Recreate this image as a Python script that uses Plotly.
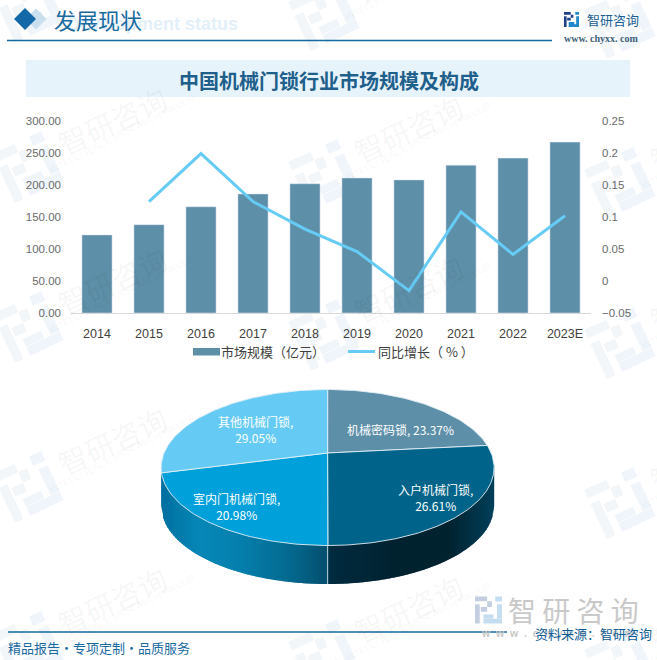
import math
import plotly.graph_objects as go

W, H = 657, 660
FONT = "Noto Sans CJK SC"
LATIN = "Liberation Sans"

years = ["2014", "2015", "2016", "2017", "2018", "2019", "2020", "2021", "2022", "2023E"]
market_size = [122, 138, 166, 186, 202, 211, 208, 231, 242, 267]
growth = [None, 0.124, 0.199, 0.124, 0.081, 0.046, -0.015, 0.108, 0.0415, 0.102]
series_names = ["市场规模\uff08亿元\uff09", "同比增长\uff08 % \uff09"]
pie_labels = ["机械密码锁", "入户机械门锁", "室内门机械门锁", "其他机械门锁"]
pie_shares = [23.37, 26.61, 20.98, 29.05]
pie_colors = ["#5D8FA8", "#006389", "#00A0DA", "#66CBF4"]
BAR_COLOR = "#5D8FA8"
LINE_COLOR = "#66CCF5"


def px(x):
    return x / W


def py(y):
    return 1 - y / H


# ---- pie geometry (perspective ellipse) ----
CX, EY, RX, RY = 327.6, 467.5, 166.5, 78
APEX = 0.186
DEPTH = 38.5


def project(theta):
    u, v = math.sin(theta), math.cos(theta)
    d = 1 + APEX * v
    yy = (v + APEX) / d
    xx = u * math.sqrt(1 - APEX ** 2) / d
    return CX + RX * xx, EY - RY * yy


def lerp_hex(stops, t):
    for (a, ca), (b, cb) in zip(stops, stops[1:]):
        if t <= b:
            f = (t - a) / (b - a)
            c = [int(ca[i:i + 2], 16) + f * (int(cb[i:i + 2], 16) - int(ca[i:i + 2], 16)) for i in (1, 3, 5)]
            return "rgb(%d,%d,%d)" % tuple(c)
    return stops[-1][1]


side_stops = [
    (161, "#0070A0"), (200, "#0788B8"), (240, "#0680AE"), (290, "#046A90"), (327.6, "#044F6E"),
    (328.5, "#012C40"), (400, "#01222F"), (450, "#012431"), (494.1, "#02405A"),
]

fig = go.Figure()

fig.add_trace(go.Bar(x=years, y=market_size, name=series_names[0], marker_color=BAR_COLOR,
                     xaxis="x", yaxis="y", showlegend=False))
fig.add_trace(go.Scatter(x=years, y=growth, name=series_names[1], mode="lines",
                         line=dict(color=LINE_COLOR, width=3), xaxis="x", yaxis="y2", showlegend=False))

# side wall: overlapping narrow bands, each covering the seam of the one before
step = 2.0
x0 = CX - RX
while x0 < CX + RX:
    x1 = min(x0 + step, CX + RX)
    x2 = min(x1 + 1.5, CX + RX)
    ya = EY + RY * math.sqrt(max(0, 1 - ((x0 - CX) / RX) ** 2))
    yb = EY + RY * math.sqrt(max(0, 1 - ((x2 - CX) / RX) ** 2))
    col = lerp_hex(side_stops, (x0 + x1) / 2)
    fig.add_trace(go.Scatter(x=[x0, x2, x2, x0], y=[ya - 3, yb - 3, yb + DEPTH, ya + DEPTH], mode="lines", fill="toself",
                             fillcolor=col, line=dict(width=0), xaxis="x3", yaxis="y3",
                             showlegend=False, hoverinfo="skip"))
    x0 = x1

# seam in the side wall at the 50% boundary
seam_x, seam_y = project(math.pi)
fig.add_trace(go.Scatter(x=[seam_x, seam_x], y=[seam_y, seam_y + DEPTH], mode="lines",
                         line=dict(color="#B9CFDA", width=1), xaxis="x3", yaxis="y3",
                         showlegend=False, hoverinfo="skip"))

# top slices
centre = (CX, EY - RY * APEX)
cum = 0.0
for name, share, colour in zip(pie_labels, pie_shares, pie_colors):
    t0 = cum / 100 * 2 * math.pi
    cum += share
    t1 = cum / 100 * 2 * math.pi
    n = max(8, int(share * 3))
    pts = [project(t0 + (t1 - t0) * i / n) for i in range(n + 1)]
    xs = [centre[0]] + [p[0] for p in pts] + [centre[0]]
    ys = [centre[1]] + [p[1] for p in pts] + [centre[1]]
    fig.add_trace(go.Scatter(x=xs, y=ys, mode="lines", fill="toself", fillcolor=colour,
                             line=dict(color="rgba(225,238,245,0.9)", width=1), xaxis="x3", yaxis="y3",
                             showlegend=False, name=name, hoverinfo="skip"))

shapes = []
annots = []


def text(x, y, s, size, color, font=FONT, anchor="center", angle=0, bold=False):
    annots.append(dict(x=px(x), y=py(y), xref="paper", yref="paper", text=("<b>%s</b>" % s) if bold else s,
                       showarrow=False, xanchor=anchor, yanchor="middle", textangle=angle,
                       font=dict(size=size, color=color, family=font)))


LOGO_NAVY = [(0, 0, 10, 2.8), (7.2, 0, 10, 9), (3.4, 6.2, 10, 9), (0, 4.6, 2.8, 16)]
LOGO_BLUE = [(12, 0, 16, 3), (13, 4.6, 16, 13), (5, 13.2, 16, 16), (5, 10.6, 11, 13)]


def logo_path(rects, cx, cy, size, angle):
    a = math.radians(angle)
    s = size / 16
    parts = []
    for (l, t, r, b) in rects:
        pts = []
        for (ux, uy) in [(l, t), (r, t), (r, b), (l, b)]:
            dx, dy = (ux - 8) * s, (uy - 8) * s
            pts.append((cx + dx * math.cos(a) - dy * math.sin(a), cy + dx * math.sin(a) + dy * math.cos(a)))
        parts.append("M" + " L".join("%.4f,%.4f" % (px(p[0]), py(p[1])) for p in pts) + " Z")
    return " ".join(parts)


def logo(cx, cy, size, angle, navy, blue):
    for rects, col in ((LOGO_NAVY, navy), (LOGO_BLUE, blue)):
        shapes.append(dict(type="path", xref="paper", yref="paper", layer="below", path=logo_path(rects, cx, cy, size, angle),
                           fillcolor=col, line=dict(width=0)))


# ---- tiled watermark ----
for col in range(3):
    for row in range(-1, 4):
        tx = 112 + 296 * col
        ty = 120 + 8 * col + 160 * row
        logo(tx - 84, ty + 47, 54, -25, "#F3F6F9", "#EFF5FA")
        over_pie = 190 < tx < 470 and 360 < ty < 560
        visible = ty > 0 or (col == 1)
        if not over_pie and visible:
            text(tx, ty, "智研咨询", 29, "rgba(0,0,0,0.055)", angle=-25)
            text(tx + 10, ty + 13, "INTELLIGENCE RESEARCH GROUP", 9.5, "rgba(0,0,0,0.05)", font=LATIN, angle=-27)

# ---- header ----
for cx, hw, col in ((36, 10.5, "#C9DFEE"), (25, 11, "#1369A8")):
    shapes.append(dict(type="path", xref="paper", yref="paper",
                       path="M%f,%f L%f,%f L%f,%f L%f,%f Z" % (px(cx - hw), py(19), px(cx), py(19 - hw), px(cx + hw), py(19), px(cx), py(19 + hw)),
                       fillcolor=col, line=dict(width=0)))
shapes.append(dict(type="line", xref="paper", yref="paper", x0=px(7), x1=px(552), y0=py(40.5), y1=py(40.5),
                   line=dict(color="#156A9E", width=1.5)))
shapes.append(dict(type="rect", xref="paper", yref="paper", layer="below", x0=px(26), x1=px(630), y0=py(60), y1=py(97),
                   fillcolor="#E6F3FB", line=dict(width=0)))
text(240, 24, "Development status", 18, "#E3F0FA", font=LATIN, anchor="right", bold=True)
text(52, 19, "发展现状", 22, "#1A6A9F", anchor="left")
text(329, 80, "中国机械门锁行业市场规模及构成", 20, "#1F5F8B", bold=True)

# top-right brand
logo(571.5, 19.5, 15, 0, "#1F3F88", "#1E88C8")
text(585, 19, "智研咨询", 13, "#1A5E94", anchor="left")
text(601, 39, "www. chyxx. com", 10, "#40607A", font="Liberation Serif", bold=True)

# footer
logo(488.5, 610, 27, 0, "#C3CFE0", "#C4DDF0")
text(573.5, 610, "智 研 咨 询", 28, "#C9C9C9")
text(557, 633, "\u00a0\u00a0".join("www.chyxx.com"), 10.5, "#C9C9C9", font=LATIN, bold=True)
shapes.append(dict(type="line", xref="paper", yref="paper", x0=px(8), x1=px(507), y0=py(632), y1=py(632),
                   line=dict(color="#156A9E", width=1.5)))
text(6, 647, "精品报告·专项定制·品质服务", 13, "#1A6A9F", anchor="left")
text(654, 633, "资料来源\uff1a智研咨询", 13, "#0F5C94", anchor="right")

# legend
shapes.append(dict(type="rect", xref="paper", yref="paper", x0=px(193), x1=px(220), y0=py(348), y1=py(355.5),
                   fillcolor=BAR_COLOR, line=dict(width=0)))
shapes.append(dict(type="line", xref="paper", yref="paper", x0=px(348), x1=px(375), y0=py(351.5), y1=py(351.5),
                   line=dict(color=LINE_COLOR, width=3)))
text(219, 351, series_names[0], 13, "#404040", anchor="left")
text(376, 351, series_names[1], 13, "#404040", anchor="left")

# pie labels
label_pos = [(400, 429, False), (435, 497.5, True), (236.7, 506.5, True), (255.7, 429.5, True)]
for name, share, (lx, ly, two) in zip(pie_labels, pie_shares, label_pos):
    s = "%s,<br>%.2f%%" % (name, share) if two else "%s, %.2f%%" % (name, share)
    text(lx, ly, s, 12, "#FFFFFF")

fig.update_layout(
    width=W, height=H, margin=dict(l=0, r=0, t=0, b=0), autosize=False,
    paper_bgcolor="#FFFFFF", plot_bgcolor="rgba(0,0,0,0)",
    font=dict(family=FONT, color="#595959"),
    bargap=0.42, shapes=shapes, annotations=annots, showlegend=False,
    xaxis=dict(domain=[px(71), px(591)], anchor="y", showgrid=False, showline=True, linecolor="#D9D9D9", linewidth=1,
               automargin=False,
               ticks="", ticklabelstandoff=9, tickfont=dict(size=12.5, family=LATIN, color="#404040"), fixedrange=True),
    yaxis=dict(domain=[py(313), py(121)], range=[0, 300], dtick=50, tickformat=".2f", showgrid=False, zeroline=False,
               automargin=False,
               ticks="", ticklabelstandoff=9, tickfont=dict(size=11.5, family=LATIN, color="#6B6B6B"), fixedrange=True),
    yaxis2=dict(domain=[py(313), py(121)], overlaying="y", side="right", anchor="x", range=[-0.05, 0.25], dtick=0.05,
                showgrid=False, zeroline=False, ticks="", ticklabelstandoff=10, automargin=False,
                tickfont=dict(size=11.5, family=LATIN, color="#6B6B6B"), fixedrange=True),
    xaxis3=dict(domain=[0, 1], range=[0, W], visible=False, anchor="y3", fixedrange=True, automargin=False),
    yaxis3=dict(domain=[0, 1], range=[H, 0], visible=False, anchor="x3", fixedrange=True, automargin=False),
)

fig.write_html("out.html", post_script="document.body.style.margin='0';document.body.style.overflow='hidden';",
               config={"displayModeBar": False})
